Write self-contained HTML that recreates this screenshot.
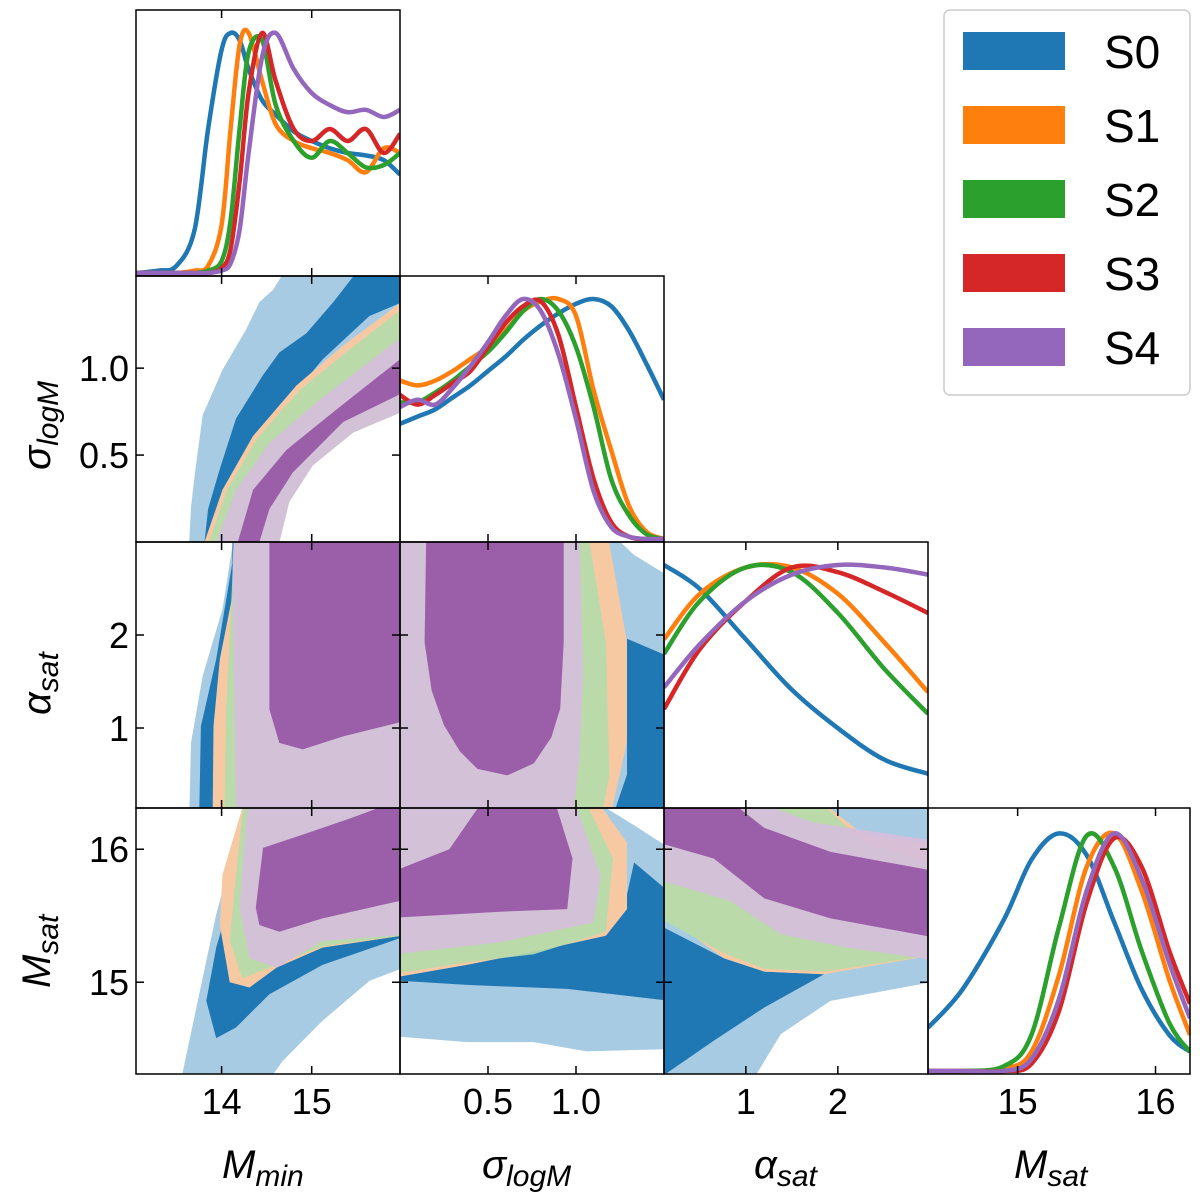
<!DOCTYPE html>
<html><head><meta charset="utf-8"><style>
html,body{margin:0;padding:0;background:#fff;}
svg{display:block;font-family:"Liberation Sans","DejaVu Sans",sans-serif;}
</style></head><body>
<svg id="fig" width="1200" height="1200" viewBox="0 0 1200 1200" xmlns="http://www.w3.org/2000/svg"></svg>
<script>
// ---------- data ----------
const seriesNames = ["S0","S1","S2","S3","S4"];
const seriesColors = ["#1f77b4","#ff7f0e","#2ca02c","#d62728","#9467bd"];

// 1D marginal: M_min
const mminX = [13.05,13.3,13.5,13.7,13.85,14.0,14.1,14.2,14.3,14.45,14.6,14.8,15.0,15.2,15.4,15.6,15.8,15.98];
const mminS0 = [0,0.01,0.03,0.18,0.6,0.93,1.0,0.97,0.85,0.72,0.66,0.59,0.55,0.52,0.50,0.49,0.47,0.41];
const mminS1 = [0,0,0,0.01,0.03,0.2,0.6,0.95,1,0.8,0.62,0.55,0.52,0.5,0.47,0.42,0.52,0.5];
const mminS2 = [0,0,0,0,0.01,0.05,0.22,0.6,0.92,0.97,0.7,0.55,0.48,0.55,0.5,0.44,0.45,0.5];
const mminS3 = [0,0,0,0,0,0.02,0.1,0.38,0.75,1,0.8,0.6,0.55,0.6,0.55,0.6,0.5,0.58];
const mminS4 = [0,0,0,0,0,0.01,0.04,0.18,0.5,0.9,1,0.85,0.75,0.7,0.67,0.68,0.65,0.68];

// 1D marginal: sigma_logM
const sigX = [0,0.1,0.2,0.3,0.4,0.5,0.6,0.7,0.8,0.9,1.0,1.1,1.2,1.3,1.4,1.5];
const sigS0 = [0.48,0.51,0.54,0.59,0.64,0.70,0.76,0.83,0.89,0.94,0.98,1.0,0.97,0.87,0.73,0.58];
const sigS1 = [0.66,0.64,0.66,0.70,0.75,0.80,0.87,0.95,0.99,1.0,0.93,0.62,0.37,0.14,0.03,0];
const sigS2 = [0.57,0.57,0.61,0.66,0.72,0.78,0.86,0.95,1.0,0.95,0.80,0.55,0.25,0.1,0.02,0];
const sigS3 = [0.6,0.56,0.6,0.65,0.7,0.8,0.9,0.97,0.99,0.85,0.55,0.25,0.07,0.01,0,0];
const sigS4 = [0.55,0.58,0.56,0.63,0.72,0.82,0.93,1.0,0.95,0.77,0.5,0.2,0.05,0.01,0,0];

// 1D marginal: alpha_sat
const alphaX = [0.11,0.5,1.0,1.5,2.0,2.5,2.98];
const alphaS0 = [1.0,0.9,0.69,0.48,0.32,0.19,0.13];
const alphaS1 = [0.69,0.88,0.99,0.99,0.88,0.68,0.47];
const alphaS2 = [0.63,0.85,0.99,0.97,0.80,0.57,0.38];
const alphaS3 = [0.4,0.65,0.85,0.99,0.97,0.89,0.8];
const alphaS4 = [0.49,0.67,0.85,0.96,1.0,0.99,0.96];

// 1D marginal: M_sat
const msatX = [14.35,14.6,14.9,15.1,15.3,15.5,15.7,15.9,16.1,16.25];
const msatS0 = [0.18,0.34,0.63,0.88,0.99,0.9,0.62,0.34,0.15,0.08];
const msatS1 = [0,0,0.01,0.08,0.4,0.85,0.99,0.75,0.38,0.15];
const msatS2 = [0,0,0.02,0.15,0.6,0.98,0.85,0.5,0.2,0.08];
const msatS3 = [0,0,0,0.03,0.25,0.7,0.97,0.85,0.5,0.28];
const msatS4 = [0,0,0,0.05,0.3,0.75,0.99,0.8,0.45,0.22];

// 2D contours (data coords) : panel M_min vs sigma
const mS_b1 = [[13.64,0],[13.66,0.2],[13.70,0.38],[13.79,0.73],[14.01,0.99],[14.27,1.22],[14.42,1.38],[14.57,1.45],[14.75,1.6],[16.1,1.6],[16.1,0.77],[15.46,0.63],[15.01,0.44],[14.75,0.23],[14.64,0]];
const mS_b2 = [[13.81,0],[13.85,0.19],[13.98,0.42],[14.16,0.71],[14.46,0.96],[14.64,1.09],[14.94,1.20],[15.24,1.38],[15.57,1.6],[16.1,1.6],[16.1,1.40],[15.64,1.30],[15.12,1.05],[14.61,0.73],[14.24,0.38],[14.03,0]];
const mS_o = [[13.81,0],[14.01,0.30],[14.35,0.61],[14.83,0.90],[15.35,1.13],[16.1,1.42],[16.1,0.77],[15.46,0.63],[15.01,0.44],[14.75,0.23],[14.64,0]];
const mS_g = [[13.86,0],[14.06,0.30],[14.40,0.60],[14.88,0.88],[15.40,1.10],[16.1,1.38],[16.1,0.77],[15.46,0.63],[15.01,0.44],[14.75,0.23],[14.64,0]];
const mS_p1 = [[13.94,0],[14.16,0.30],[14.53,0.57],[15.09,0.82],[16.1,1.22],[16.1,0.77],[15.46,0.63],[15.01,0.44],[14.75,0.23],[14.64,0]];
const mS_p2 = [[14.18,0],[14.35,0.30],[14.72,0.53],[15.27,0.76],[16.1,1.1],[16.1,0.88],[15.35,0.69],[14.79,0.40],[14.53,0.19],[14.42,0]];

// panel M_min vs alpha
const mA_b1 = [[14.16,3.2],[14.01,2.28],[13.79,1.56],[13.66,0.84],[13.64,0],[16.1,0],[16.1,3.2]];
const mA_b2 = [[14.12,3.2],[14.12,2.78],[13.94,1.74],[13.77,1.02],[13.75,0],[16.1,0],[16.1,3.2]];
const mA_o = [[14.14,3.2],[14.12,2.42],[13.98,1.74],[13.91,1.02],[13.90,0],[16.1,0],[16.1,3.2]];
const mA_g = [[14.14,3.2],[14.12,2.63],[14.05,1.20],[14.03,0],[16.1,0],[16.1,3.2]];
const mA_p1 = [[14.14,3.2],[14.12,2.63],[14.16,0],[16.1,0],[16.1,3.2]];
const mA_p2 = [[14.53,3.2],[14.53,1.20],[14.64,0.84],[14.9,0.77],[15.35,0.91],[16.1,1.09],[16.1,3.2]];

// panel sigma vs alpha
const sA_b1 = [[-0.1,3.2],[1.14,3.2],[1.33,2.86],[1.6,2.55],[1.6,0],[-0.1,0]];
const sA_b2 = [[1.29,1.96],[1.6,1.71],[1.6,0],[1.2,0],[1.29,0.5]];
const sA_o = [[-0.1,3.2],[1.17,3.2],[1.29,1.92],[1.29,0.85],[1.19,0],[-0.1,0]];
const sA_g = [[-0.1,3.2],[1.06,3.2],[1.17,1.92],[1.19,0.49],[1.14,0],[-0.1,0]];
const sA_p1 = [[-0.1,3.2],[1.02,3.2],[1.04,1.57],[1.02,0.67],[0.98,0],[-0.1,0]];
const sA_p2 = [[0.15,3.2],[0.14,1.92],[0.18,1.4],[0.25,1.03],[0.34,0.75],[0.44,0.56],[0.61,0.49],[0.76,0.62],[0.86,0.9],[0.91,1.21],[0.93,1.92],[0.93,3.2]];

// panel sigma vs M_sat
const sM_b1 = [[-0.1,16.4],[1.06,16.4],[1.33,16.18],[1.6,15.95],[1.6,14.5],[1.06,14.48],[0.76,14.55],[0.38,14.55],[-0.1,14.6]];
const sM_b2 = [[-0.1,15.05],[0.38,15.18],[0.76,15.25],[1.14,15.35],[1.28,15.6],[1.33,15.9],[1.6,15.6],[1.6,14.85],[0.95,14.95],[0.38,14.98],[-0.1,15.02]];
const sM_o = [[-0.1,16.4],[1.10,16.4],[1.29,16.05],[1.29,15.55],[1.17,15.35],[0.76,15.23],[0.38,15.13],[-0.1,15.02]];
const sM_g = [[-0.1,16.4],[1.04,16.4],[1.21,15.93],[1.17,15.38],[0.76,15.21],[0.38,15.15],[-0.1,15.05]];
const sM_p1 = [[-0.1,16.4],[0.98,16.4],[1.14,15.8],[1.1,15.45],[0.57,15.3],[-0.1,15.2]];
const sM_p2 = [[-0.1,15.80],[0.28,16.0],[0.49,16.4],[0.87,16.4],[0.98,15.93],[0.95,15.55],[0.57,15.53],[-0.1,15.48]];

// panel M_min vs M_sat
const mM_b1 = [[13.53,14.2],[13.72,14.81],[13.94,15.51],[14.12,15.96],[14.31,16.16],[14.35,16.4],[16.1,16.4],[16.1,15.13],[15.64,15.01],[15.12,14.71],[14.68,14.41],[14.46,14.2]];
const mM_b2 = [[13.94,15.26],[13.83,14.86],[13.94,14.58],[14.16,14.66],[14.53,14.91],[15.12,15.13],[16.1,15.36],[16.1,15.6],[14.5,15.5],[14.0,15.4]];
const mM_o = [[14.27,16.4],[14.01,15.81],[13.98,15.43],[14.09,15.0],[14.31,14.96],[14.61,15.11],[15.12,15.26],[16.1,15.36],[16.1,16.4]];
const mM_g = [[14.25,16.4],[14.16,15.81],[14.09,15.31],[14.23,15.03],[14.53,15.11],[15.12,15.27],[16.1,15.36],[16.1,16.4]];
const mM_p1 = [[14.30,16.4],[14.27,16.18],[14.2,15.56],[14.31,15.18],[14.61,15.11],[15.12,15.31],[16.1,15.36],[16.1,16.4]];
const mM_p2 = [[14.46,16.01],[14.38,15.56],[14.42,15.43],[14.64,15.38],[15.12,15.48],[16.1,15.63],[16.1,16.4],[15.42,16.23],[14.9,16.11]];

// panel alpha vs M_sat
const aM_b1 = [[0,16.4],[3.1,16.4],[3.1,15.01],[2.47,14.93],[1.92,14.86],[1.38,14.61],[1.02,14.2],[0,14.2]];
const aM_b2 = [[0,15.45],[0.76,15.18],[1.2,15.08],[1.85,15.06],[1.2,14.81],[0.65,14.56],[0,14.25]];
const aM_o = [[0,16.4],[1.74,16.4],[2.28,16.11],[3.1,16.03],[3.1,15.21],[1.85,15.06],[1.2,15.08],[0.76,15.18],[0,15.56]];
const aM_g = [[0,16.4],[1.74,16.4],[2.28,16.05],[3.1,15.87],[3.1,15.21],[1.85,15.08],[1.2,15.1],[0.76,15.22],[0,15.5]];
const aM_p1 = [[0,16.4],[0.94,16.4],[1.74,16.2],[3.1,16.06],[3.1,15.16],[2.1,15.26],[1.38,15.36],[0.83,15.61],[0,15.78]];
const aM_p2 = [[0,16.4],[0.76,16.4],[1.2,16.16],[1.92,15.98],[3.1,15.83],[3.1,15.33],[1.92,15.48],[1.2,15.63],[0.65,15.93],[0,16.06]];

// axes
const colEdges = [136,400,664,928,1190];
const rowEdges = [10,276,542,808,1074];
const xRanges = [[13.05,15.98],[0,1.5],[0.11,2.98],[14.35,16.25]];
const yRanges = [null,[0,1.53],[0.14,3.0],[14.31,16.31]];
const xTicks = [[14,15],[0.5,1.0],[1,2],[15,16]];
const xTickLabels = [["14","15"],["0.5","1.0"],["1","2"],["15","16"]];
const yTicks = [null,[0.5,1.0],[1,2],[15,16]];
const yTickLabels = [null,["0.5","1.0"],["1","2"],["15","16"]];

// ---------- drawing ----------
const NS="http://www.w3.org/2000/svg";
const svg=document.getElementById('fig');
function mk(tag,attrs,parent){const e=document.createElementNS(NS,tag);for(const k in attrs)e.setAttribute(k,attrs[k]);(parent||svg).appendChild(e);return e;}
function xScale(c,v){const r=xRanges[c];return colEdges[c]+(v-r[0])/(r[1]-r[0])*(colEdges[c+1]-colEdges[c]);}
function yScale(r,v){const q=yRanges[r];return rowEdges[r+1]-(v-q[0])/(q[1]-q[0])*(rowEdges[r+1]-rowEdges[r]);}
function smoothPath(pts){let d="M"+pts[0][0].toFixed(1)+","+pts[0][1].toFixed(1);
 for(let i=0;i<pts.length-1;i++){const p0=pts[Math.max(0,i-1)],p1=pts[i],p2=pts[i+1],p3=pts[Math.min(pts.length-1,i+2)];
  const c1=[p1[0]+(p2[0]-p0[0])/6,p1[1]+(p2[1]-p0[1])/6],c2=[p2[0]-(p3[0]-p1[0])/6,p2[1]-(p3[1]-p1[1])/6];
  d+=" C"+c1[0].toFixed(1)+","+c1[1].toFixed(1)+" "+c2[0].toFixed(1)+","+c2[1].toFixed(1)+" "+p2[0].toFixed(1)+","+p2[1].toFixed(1);}
 return d;}
const defs=mk('defs',{});
function clipFor(c,r){const id="clip"+c+"_"+r;const cp=mk('clipPath',{id:id},defs);
 mk('rect',{x:colEdges[c],y:rowEdges[r],width:colEdges[c+1]-colEdges[c],height:rowEdges[r+1]-rowEdges[r]},cp);return "url(#"+id+")";}

// 1D panels
const diagX=[mminX,sigX,alphaX,msatX];
const diagS=[[mminS0,mminS1,mminS2,mminS3,mminS4],[sigS0,sigS1,sigS2,sigS3,sigS4],[alphaS0,alphaS1,alphaS2,alphaS3,alphaS4],[msatS0,msatS1,msatS2,msatS3,msatS4]];
const diagNames=["mmin","sigma","alpha","msat"];
for(let k=0;k<4;k++){
 const g=mk('g',{'clip-path':clipFor(k,k)});
 
 
 const base=rowEdges[k+1]-3, top=rowEdges[k]+23;
 for(let s=0;s<5;s++){
  const pts=diagX[k].map((x,i)=>[xScale(k,x),base-diagS[k][s][i]*(base-top)]);
  const p=mk('path',{d:smoothPath(pts),fill:'none',stroke:seriesColors[s],'stroke-width':4.5,'stroke-linejoin':'round'},g);
  
  
 }
}

// 2D panels
const fills=[["#a6cbe3",1],["#1f77b4",1],["#f6c9a3",1],["#b5dcab",0.9],["#d6bedc",0.9],["#9b5fa9",1]];
const panels2D=[
 [0,1,[mS_b1,mS_b2,mS_o,mS_g,mS_p1,mS_p2],"mmin-vs-sigma"],
 [0,2,[mA_b1,mA_b2,mA_o,mA_g,mA_p1,mA_p2],"mmin-vs-alpha"],
 [1,2,[sA_b1,sA_b2,sA_o,sA_g,sA_p1,sA_p2],"sigma-vs-alpha"],
 [0,3,[mM_b1,mM_b2,mM_o,mM_g,mM_p1,mM_p2],"mmin-vs-msat"],
 [1,3,[sM_b1,sM_b2,sM_o,sM_g,sM_p1,sM_p2],"sigma-vs-msat"],
 [2,3,[aM_b1,aM_b2,aM_o,aM_g,aM_p1,aM_p2],"alpha-vs-msat"]];
const layerNames=["s0-outer","s0-inner","s1-outer","s2-outer","s4-outer","s4-inner"];
panels2D.forEach(([c,r,layers,name])=>{
 const g=mk('g',{'clip-path':clipFor(c,r)});
 
 
 layers.forEach((poly,i)=>{
  const pts=poly.map(p=>xScale(c,p[0]).toFixed(1)+","+yScale(r,p[1]).toFixed(1)).join(" ");
  const e=mk('polygon',{points:pts,fill:fills[i][0],'fill-opacity':fills[i][1],'stroke-linejoin':'round'},g);
  
  
 });
});

// frames and ticks
const frames=[[0,0],[0,1],[1,1],[0,2],[1,2],[2,2],[0,3],[1,3],[2,3],[3,3]];
frames.forEach(([c,r])=>{
 const x0=colEdges[c],x1=colEdges[c+1],y0=rowEdges[r],y1=rowEdges[r+1];
 const f=mk('rect',{x:x0,y:y0,width:x1-x0,height:y1-y0,fill:'none',stroke:'#000','stroke-width':1.5});
 
 
 xTicks[c].forEach(v=>{const x=xScale(c,v);
  mk('line',{x1:x,x2:x,y1:y1,y2:y1-8,stroke:'#000','stroke-width':1.5});
  mk('line',{x1:x,x2:x,y1:y0,y2:y0+8,stroke:'#000','stroke-width':1.5});});
 if(r>0 && c!==r){yTicks[r].forEach(v=>{const y=yScale(r,v);
  mk('line',{x1:x0,x2:x0+8,y1:y,y2:y,stroke:'#000','stroke-width':1.5});
  mk('line',{x1:x1,x2:x1-8,y1:y,y2:y,stroke:'#000','stroke-width':1.5});});}
});
// tick labels
for(let c=0;c<4;c++){xTicks[c].forEach((v,i)=>{
 const t=mk('text',{x:xScale(c,v),y:1114,'font-size':36,'text-anchor':'middle',fill:'#000'});t.textContent=xTickLabels[c][i];
 
 });}
for(let r=1;r<4;r++){yTicks[r].forEach((v,i)=>{
 const t=mk('text',{x:129,y:yScale(r,v)+13,'font-size':36,'text-anchor':'end',fill:'#000'});t.textContent=yTickLabels[r][i];
 
 });}
</script>
<svg width="1200" height="1200" style="position:absolute;left:0;top:0" xmlns="http://www.w3.org/2000/svg">
 <g font-family="Liberation Sans, DejaVu Sans, sans-serif" font-style="italic" fill="#000">
  <text x="222" y="1178" font-size="40">M<tspan font-size="30" dy="8">min</tspan></text>
  <text x="482" y="1178" font-size="40">σ<tspan font-size="30" dy="8">logM</tspan></text>
  <text x="754" y="1178" font-size="40">α<tspan font-size="30" dy="8">sat</tspan></text>
  <text x="1014" y="1178" font-size="40">M<tspan font-size="30" dy="8">sat</tspan></text>
  <text transform="translate(50,470) rotate(-90)" font-size="40">σ<tspan font-size="30" dy="8">logM</tspan></text>
  <text transform="translate(50,715) rotate(-90)" font-size="40">α<tspan font-size="30" dy="8">sat</tspan></text>
  <text transform="translate(50,988) rotate(-90)" font-size="40">M<tspan font-size="30" dy="8">sat</tspan></text>
 </g>
 <g>
  <rect x="944" y="10" width="246" height="385" rx="6" fill="#fff" fill-opacity="0.8" stroke="#cccccc" stroke-width="1.5"/>
  <g font-family="Liberation Sans, DejaVu Sans, sans-serif" font-size="46" fill="#000">
   <rect x="963" y="32" width="102" height="38" fill="#1f77b4"/>
   <text x="1104" y="68">S0</text>
   <rect x="963" y="106" width="102" height="38" fill="#ff7f0e"/>
   <text x="1104" y="142">S1</text>
   <rect x="963" y="180" width="102" height="38" fill="#2ca02c"/>
   <text x="1104" y="216">S2</text>
   <rect x="963" y="254" width="102" height="38" fill="#d62728"/>
   <text x="1104" y="290">S3</text>
   <rect x="963" y="328" width="102" height="38" fill="#9467bd"/>
   <text x="1104" y="364">S4</text>
  </g>
 </g>
</svg>
</body></html>
